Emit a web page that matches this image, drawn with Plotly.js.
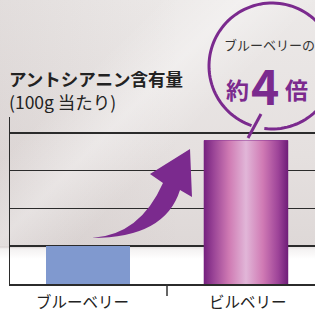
<!DOCTYPE html>
<html><head><meta charset="utf-8">
<script src="https://cdn.plot.ly/plotly-3.0.1.min.js"></script>
<style>html,body{margin:0;padding:0;background:#fff;}#chart{width:315px;height:312px;}</style>
</head><body><div id="chart"></div>
<script>
const categories = ['ブルーベリー', 'ビルベリー'];
const values = [1.0, 3.8];
const gridTicks = [1, 2, 3, 4];
const titleLines = ['アントシアニン含有量', '(100g 当たり)'];
const badgeLines = ['ブルーベリーの', '約', '4', '倍'];

const W = 315, H = 312;
const M = {l: 10, r: 0, t: 117, b: 28};
const PW = W - M.l - M.r, PH = H - M.t - M.b;
const px = x => (x - M.l) / PW;
const py = y => (H - M.b - y) / PH;
const purple = '#7b2a8e';
const font = '"Noto Sans CJK JP", "Noto Sans", sans-serif';

// background gradient image
function bg() {
  const c = document.createElement('canvas'); c.width = W; c.height = H;
  const g = c.getContext('2d');
  const v = g.createLinearGradient(0, 0, 0, H);
  v.addColorStop(0, '#ece9e8');
  v.addColorStop(0.5, '#e5e0df');
  v.addColorStop(0.785, '#ded8d7');
  v.addColorStop(0.80, '#f4f2f2');
  v.addColorStop(0.83, '#ffffff');
  v.addColorStop(1, '#ffffff');
  g.fillStyle = v; g.fillRect(0, 0, W, H);
  const hz = g.createLinearGradient(0, 0, 180, 0);
  hz.addColorStop(0, 'rgba(140,120,120,0.10)');
  hz.addColorStop(1, 'rgba(140,120,120,0)');
  g.fillStyle = hz; g.fillRect(0, 0, W, 248);
  g.save();
  g.beginPath(); g.rect(0, 0, W, 246); g.clip();
  const d = g.createLinearGradient(40, 120, 120, 200);
  d.addColorStop(0, 'rgba(255,255,255,0)');
  d.addColorStop(0.5, 'rgba(255,255,255,0.35)');
  d.addColorStop(1, 'rgba(255,255,255,0)');
  g.fillStyle = d; g.fillRect(0, 0, W, 246);
  g.restore();
  return c.toDataURL('image/png');
}

const barW = 0.535;
const traces = [
  {type: 'bar', x: [0, 1], y: values, width: barW,
   marker: {color: ['#8099cf', '#8a3594'], line: {width: 0}}, hoverinfo: 'none'},
  {type: 'scatter', mode: 'lines',
   x: [1 - barW / 2, 1 + barW / 2, 1 + barW / 2, 1 - barW / 2, 1 - barW / 2],
   y: [0, 0, values[1], values[1], 0],
   fill: 'toself', line: {width: 0},
   fillgradient: {type: 'horizontal', colorscale: [
     [0, '#74207e'], [0.12, '#9b4597'], [0.3, '#cf7ab3'], [0.5, '#e1b6d8'],
     [0.7, '#d07ab4'], [0.88, '#9e4499'], [1, '#6e1d78']]},
   hoverinfo: 'none'}
];

// circle badge
function arcPath() {
  const cx = 272, cy = 66, r = 63;
  let s = '';
  for (let a = 97; a >= -252; a -= 3) {
    const t = a * Math.PI / 180;
    s += (s ? ' L ' : 'M ') + px(cx + r * Math.cos(t)).toFixed(4) + ',' + py(cy + r * Math.sin(t)).toFixed(4);
  }
  return s;
}
const P = (x, y) => px(x).toFixed(4) + ',' + py(y).toFixed(4);
const arrow = 'M ' + P(92, 238) + ' Q ' + P(140, 235) + ' ' + P(163, 183) +
  ' L ' + P(150, 174) + ' L ' + P(190, 149) + ' L ' + P(192, 197) +
  ' L ' + P(180, 190) + ' Q ' + P(165, 238) + ' ' + P(92, 238) + ' Z';

const shapes = [
  {type: 'path', xref: 'paper', yref: 'paper', path: arrow, fillcolor: purple, line: {width: 0}},
  {type: 'path', xref: 'paper', yref: 'paper', path: arcPath(), line: {color: purple, width: 3}},
  {type: 'line', xref: 'paper', yref: 'paper', x0: px(248), y0: py(138), x1: px(261), y1: py(114), line: {color: purple, width: 3}},
  {type: 'line', xref: 'x', yref: 'paper', x0: 0.5, x1: 0.5, y0: 0, y1: py(296), line: {color: '#333', width: 1.5}}
];

const annotations = [
  {xref: 'paper', yref: 'paper', x: px(7), y: py(78), xanchor: 'left', yanchor: 'middle', showarrow: false,
   text: '<b>' + titleLines[0] + '</b>', font: {family: font, size: 17.5, color: '#222'}},
  {xref: 'paper', yref: 'paper', x: px(7), y: py(101.5), xanchor: 'left', yanchor: 'middle', showarrow: false,
   text: titleLines[1], font: {family: font, size: 17.5, color: '#222'}},
  {xref: 'paper', yref: 'paper', x: px(269), y: py(45), xanchor: 'center', yanchor: 'middle', showarrow: false,
   text: badgeLines[0], font: {family: font, size: 13, color: '#333'}},
  {xref: 'paper', yref: 'paper', x: px(237), y: py(89), xanchor: 'center', yanchor: 'middle', showarrow: false,
   text: '<b>' + badgeLines[1] + '</b>', font: {family: font, size: 23, color: purple}},
  {xref: 'paper', yref: 'paper', x: px(265), y: py(84), xanchor: 'center', yanchor: 'middle', showarrow: false,
   text: '<b>' + badgeLines[2] + '</b>', font: {family: font, size: 48, color: purple}},
  {xref: 'paper', yref: 'paper', x: px(296), y: py(89), xanchor: 'center', yanchor: 'middle', showarrow: false,
   text: '<b>' + badgeLines[3] + '</b>', font: {family: font, size: 23, color: purple}}
];
const labelShift = [-0.035, 0.015];
categories.forEach((c, i) => annotations.push({
  xref: 'x', yref: 'paper', x: i + labelShift[i], y: py(301), xanchor: 'center', yanchor: 'middle',
  borderpad: 0, showarrow: false, text: c, font: {family: font, size: 15.5, color: '#222'}}));

const layout = {
  width: W, height: H, margin: M,
  paper_bgcolor: '#ffffff', plot_bgcolor: 'rgba(0,0,0,0)',
  showlegend: false, bargap: 0,
  xaxis: {range: [-0.494, 1.437], showgrid: false, zeroline: false, showticklabels: false,
          ticks: '', showline: true, linecolor: '#2b2b2b', linewidth: 2, fixedrange: true},
  yaxis: {range: [0, 4.42], tickvals: gridTicks, showticklabels: false, ticks: '',
          showgrid: true, gridcolor: '#2b2b2b', gridwidth: 1.6, zeroline: false,
          showline: true, linecolor: '#2b2b2b', linewidth: 1.5, fixedrange: true},
  images: [{source: bg(), xref: 'paper', yref: 'paper', x: px(0), y: py(0),
            sizex: W / PW, sizey: H / PH, sizing: 'stretch', xanchor: 'left', yanchor: 'top', layer: 'below'}],
  shapes: shapes, annotations: annotations
};
Plotly.newPlot('chart', traces, layout, {displayModeBar: false, staticPlot: true});
</script></body></html>
